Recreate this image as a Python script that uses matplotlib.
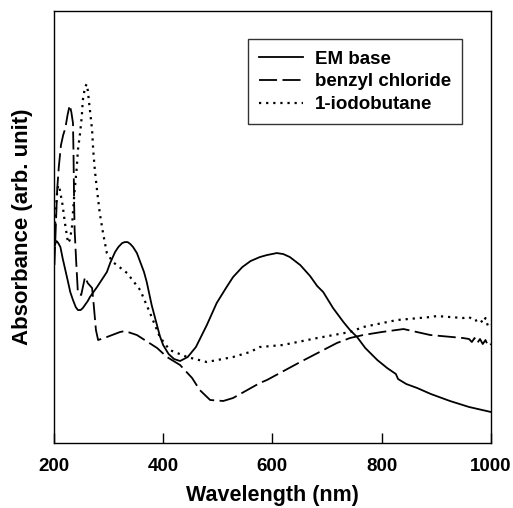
import numpy as np
import matplotlib
matplotlib.use("Agg")
from matplotlib import pyplot as plt

plt.rcParams['font.family'] = ['Liberation Sans', 'DejaVu Sans']
plt.rcParams['font.weight'] = 'bold'

# EM base (solid)
em_wl = [200, 203, 205, 208, 212, 216, 221, 226, 230, 235, 240, 244, 249, 253, 262,
         266, 279, 297, 303, 312, 318, 325, 330, 335, 340, 345, 352, 365, 370, 379,
         394, 400, 410, 420, 431, 445, 460, 480, 498, 515, 528, 545, 560, 577, 590,
         608, 620, 632, 651, 669, 682, 693, 711, 730, 742, 755, 770, 792, 810, 826,
         830, 845, 865, 890, 925, 960, 1000]
em_abs = [1.93, 2.00, 2.02, 2.00, 1.96, 1.85, 1.73, 1.61, 1.51, 1.43, 1.36, 1.33, 1.33, 1.35, 1.42,
          1.46, 1.56, 1.71, 1.80, 1.91, 1.96, 2.00, 2.01, 2.01, 1.99, 1.96, 1.90, 1.71, 1.61, 1.38,
          1.07, 0.98, 0.89, 0.84, 0.82, 0.86, 0.96, 1.18, 1.40, 1.55, 1.66, 1.76, 1.82, 1.86, 1.88,
          1.90, 1.89, 1.86, 1.78, 1.67, 1.57, 1.51, 1.35, 1.21, 1.13, 1.06, 0.95, 0.83, 0.75, 0.69,
          0.64, 0.59, 0.55, 0.49, 0.42, 0.36, 0.31]

# benzyl chloride (long dash)
bz_wl = [201, 204, 206, 209, 213, 217, 221, 225, 229, 232, 235, 236, 237, 238, 241,
         244, 250, 257, 262, 270, 273, 277, 281, 297, 321, 330, 352, 389, 407, 431,
         453, 467, 486, 510, 528, 577, 590, 651, 718, 742, 766, 800, 840, 889, 949,
         960, 965, 970, 975, 980, 985, 990, 995, 1000]
bz_abs = [1.78, 2.23, 2.53, 2.76, 2.98, 3.08, 3.15, 3.28, 3.38, 3.31, 3.20, 2.88, 2.43, 2.13, 1.80,
          1.50, 1.48, 1.66, 1.60, 1.55, 1.38, 1.13, 1.03, 1.06, 1.11, 1.12, 1.08, 0.95, 0.86, 0.78,
          0.65, 0.53, 0.43, 0.42, 0.45, 0.60, 0.63, 0.81, 1.00, 1.05, 1.08, 1.11, 1.14, 1.08, 1.05,
          1.04, 1.01, 1.05, 1.00, 1.04, 0.99, 1.03, 0.97, 0.99]

# 1-iodobutane (dotted)
io_wl = [200, 203, 206, 208, 211, 216, 220, 226, 229, 233, 235, 238, 242, 244, 248,
         251, 253, 257, 260, 262, 266, 270, 272, 275, 279, 284, 290, 297, 308, 320,
         334, 358, 376, 394, 412, 444, 480, 528, 559, 577, 619, 682, 742, 766, 828,
         889, 901, 949, 960, 970, 980, 985, 990, 995, 1000]
io_abs = [1.98, 2.28, 2.51, 2.58, 2.53, 2.38, 2.21, 2.00, 2.03, 2.15, 2.31, 2.53, 2.76, 2.93, 3.10,
          3.26, 3.43, 3.56, 3.59, 3.53, 3.33, 3.13, 2.93, 2.73, 2.53, 2.30, 2.10, 1.90, 1.81, 1.76,
          1.70, 1.53, 1.30, 1.06, 0.93, 0.86, 0.81, 0.86, 0.91, 0.96, 0.98, 1.05, 1.11, 1.16, 1.23,
          1.26, 1.27, 1.25, 1.26, 1.22, 1.24, 1.20, 1.25, 1.16, 1.18]

labels = ['EM base', 'benzyl chloride', '1-iodobutane']

fig = plt.figure(figsize=(5.13, 5.08), dpi=100)
ax = fig.add_axes([0.105, 0.128, 0.852, 0.850])

ax.plot(em_wl, em_abs, color='black', lw=1.3, label=labels[0])
ax.plot(bz_wl, bz_abs, color='black', lw=1.3, dashes=(10, 3), label=labels[1])
ax.plot(io_wl, io_abs, color='black', lw=1.6, linestyle=(0, (1, 2.2)), label=labels[2])

ax.set_xlim(200, 1000)
ax.set_ylim(0, 4.32)
ax.set_xticks([200, 400, 600, 800, 1000])
ax.set_yticks([])
ax.tick_params(axis='x', direction='in', length=7, width=1, labelsize=13.5, pad=11)
for lab in ax.get_xticklabels():
    lab.set_fontweight('bold')
for s in ax.spines.values():
    s.set_linewidth(1.0)

ax.set_xlabel('Wavelength (nm)', fontsize=15.5, fontweight='bold', labelpad=7)
ax.set_ylabel('Absorbance (arb. unit)', fontsize=16, fontweight='bold', labelpad=15)

leg = ax.legend(loc='upper right', bbox_to_anchor=(0.934, 0.935), fontsize=13.5,
                frameon=True, fancybox=False, edgecolor='black', handlelength=2.35,
                handletextpad=0.6, borderpad=0.6, labelspacing=0.3, borderaxespad=0)
leg.get_frame().set_linewidth(1.0)
for t in leg.get_texts():
    t.set_fontweight('bold')

fig.savefig('out.png', dpi=100)
